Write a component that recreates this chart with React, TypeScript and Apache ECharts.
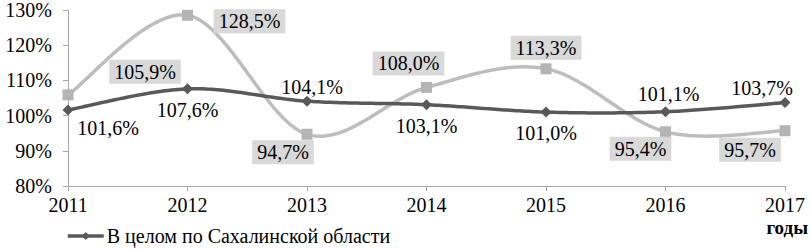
import React, { useEffect, useRef } from "react";
import * as echarts from "echarts";

const years = ["2011", "2012", "2013", "2014", "2015", "2016", "2017"];
const regionValues = [101.6, 107.6, 104.1, 103.1, 101.0, 101.1, 103.7];
const otherValues = [105.9, 128.5, 94.7, 108.0, 113.3, 95.4, 95.7];
const regionName = "В целом по Сахалинской области";
const otherName = "Ряд 2";
const yTicks = [80, 90, 100, 110, 120, 130];

const regionOffsets = [[40, 18], [0, 21], [5, -14], [0, 21], [0, 21], [3, -18], [-23, -15]];
const otherOffsets = [[77, -23], [62, 6], [-24, 18], [-18, -24], [0, -21], [-25, 17], [-35, 19]];

const FONT = "Liberation Serif, serif";
const fmt = (v: number) => v.toFixed(1).replace(".", ",") + "%";

const DARK = "#595959";
const LIGHT = "#bdbdbd";

// Excel-like smoothed curve (Catmull-Rom) through points placed by the chart's own scales
function smoothCurve(values: number[], color: string) {
  return (params: any, api: any) => {
    if (params.dataIndex !== 0) return null;
    const p = values.map((v, i) => api.coord([i, v]));
    const n = p.length;
    const pts: number[][] = [p[0]];
    const steps = 40;
    for (let i = 0; i < n - 1; i++) {
      const p0 = p[Math.max(i - 1, 0)];
      const p1 = p[i];
      const p2 = p[i + 1];
      const p3 = p[Math.min(i + 2, n - 1)];
      const c1 = [p1[0] + (p2[0] - p0[0]) / 6, p1[1] + (p2[1] - p0[1]) / 6];
      const c2 = [p2[0] - (p3[0] - p1[0]) / 6, p2[1] - (p3[1] - p1[1]) / 6];
      for (let s = 1; s <= steps; s++) {
        const t = s / steps;
        const a = (1 - t) * (1 - t) * (1 - t);
        const b = 3 * (1 - t) * (1 - t) * t;
        const c = 3 * (1 - t) * t * t;
        const d = t * t * t;
        pts.push([
          a * p1[0] + b * c1[0] + c * c2[0] + d * p2[0],
          a * p1[1] + b * c1[1] + c * c2[1] + d * p2[1],
        ]);
      }
    }
    return {
      type: "polyline",
      shape: { points: pts },
      style: { stroke: color, lineWidth: 3.5, fill: "none", lineJoin: "round" },
      silent: true,
    };
  };
}

export default function App() {
  const ref = useRef<HTMLDivElement>(null);
  useEffect(() => {
    if (!ref.current) return;
    const chart = echarts.init(ref.current, undefined, { renderer: "svg" });
    chart.setOption({
      animation: false,
      textStyle: { fontFamily: FONT },
      grid: { left: 68, right: 25, top: 10, bottom: 63 },
      legend: {
        data: [regionName],
        left: 66,
        top: 226,
        itemWidth: 36,
        itemHeight: 10,
        itemGap: 4,
        padding: 0,
        lineStyle: { color: DARK, width: 3.5, opacity: 1 },
        itemStyle: { color: DARK, opacity: 1 },
        textStyle: { fontFamily: FONT, fontSize: 20, lineHeight: 20, color: "#000", padding: [0, 0, 0, -2] },
      },
      graphic: [
        {
          type: "text",
          right: 2,
          top: 218,
          style: { text: "годы", font: "bold 19px Liberation Serif, serif", fill: "#000" },
        },
      ],
      xAxis: {
        type: "category",
        data: years,
        boundaryGap: false,
        axisLine: { lineStyle: { color: "#a6a6a6", width: 1 } },
        axisTick: { show: true, length: 5, lineStyle: { color: "#a6a6a6" } },
        axisLabel: { fontFamily: FONT, fontSize: 20, color: "#000", margin: 9 },
      },
      yAxis: {
        type: "value",
        min: yTicks[0],
        max: yTicks[yTicks.length - 1],
        interval: 10,
        axisLine: { show: true, lineStyle: { color: "#a6a6a6", width: 1 } },
        axisTick: { show: true, length: 5, lineStyle: { color: "#a6a6a6" } },
        splitLine: { show: false },
        axisLabel: {
          fontFamily: FONT,
          fontSize: 20,
          color: "#000",
          margin: 16,
          formatter: (v: number) => v + "%",
        },
      },
      series: [
        {
          name: otherName + " curve",
          type: "custom",
          renderItem: smoothCurve(otherValues, LIGHT),
          data: [[0, otherValues[0]]],
          z: 1,
          clip: false,
        },
        {
          name: otherName,
          type: "line",
          symbol: "rect",
          symbolSize: 11,
          lineStyle: { opacity: 0 },
          itemStyle: { color: "#b4b4b4" },
          z: 2,
          data: otherValues.map((v, i) => ({
            value: v,
            label: {
              show: true,
              position: "inside",
              offset: otherOffsets[i],
              formatter: fmt(v),
              fontFamily: FONT,
              fontSize: 20,
              lineHeight: 18,
              color: "#000",
              backgroundColor: "#d9d9d9",
              padding: [4, 5, 2, 5],
            },
          })),
        },
        {
          name: regionName + " curve",
          type: "custom",
          renderItem: smoothCurve(regionValues, DARK),
          data: [[0, regionValues[0]]],
          z: 3,
          clip: false,
        },
        {
          name: regionName,
          type: "line",
          symbol: "diamond",
          symbolSize: 11,
          lineStyle: { color: DARK, width: 3.5, opacity: 0 },
          itemStyle: { color: DARK },
          z: 4,
          data: regionValues.map((v, i) => ({
            value: v,
            label: {
              show: true,
              position: "inside",
              offset: regionOffsets[i],
              formatter: fmt(v),
              fontFamily: FONT,
              fontSize: 20,
              color: "#000",
            },
          })),
        },
      ],
    });
    return () => chart.dispose();
  }, []);
  return <div ref={ref} style={{ width: 810, height: 249, position: "absolute", left: 0, top: 0 }} />;
}
